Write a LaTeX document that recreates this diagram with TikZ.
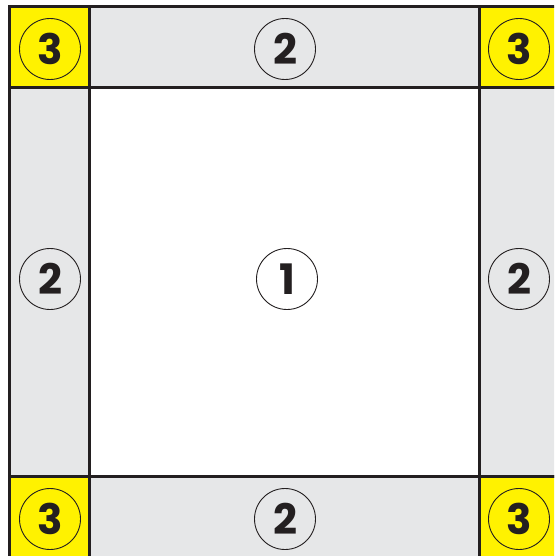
\documentclass[tikz,border=0pt]{standalone}
\usepackage{fontspec}
\setmainfont{Poppins}
\usepackage{tikz}
\usetikzlibrary{positioning}
\definecolor{zoneyellow}{HTML}{FFF200}
\definecolor{zonegray}{HTML}{E6E7E8}
\definecolor{zoneline}{HTML}{231F20}
\tikzstyle{cell} = [draw=zoneline, line width=3pt]
\tikzstyle{badge} = [circle, draw=zoneline, line width=0.9pt, minimum size=61pt,
    inner sep=0pt, text=zoneline, font=\fontsize{42}{42}\selectfont\bfseries]

\begin{document}
\begin{tikzpicture}[x=1pt,y=-1pt]
\useasboundingbox (0,0) rectangle (554,556);
\clip (0,0) rectangle (554,556);
% middle zone and edge zones
\draw[cell, fill=white] (89.5,87.5) rectangle (479,476.5);
\draw[cell, fill=zonegray] (89.5,6.5) rectangle (479,87.5);
\draw[cell, fill=zonegray] (89.5,476.5) rectangle (479,620);
\draw[cell, fill=zonegray] (9.5,87.5) rectangle (89.5,476.5);
\draw[cell, fill=zonegray] (479,87.5) rectangle (620,476.5);
% corner zones
\draw[cell, fill=zoneyellow] (9.5,6.5) rectangle (89.5,87.5);
\draw[cell, fill=zoneyellow] (479,6.5) rectangle (620,87.5);
\draw[cell, fill=zoneyellow] (9.5,476.5) rectangle (89.5,620);
\draw[cell, fill=zoneyellow] (479,476.5) rectangle (620,620);
% labels
\node[badge] (m) at (287,279) {1};
\node[badge] (et) at (285,49) {2};
\node[badge] (eb) at (285,519) {2};
\node[badge] (el) at (50,279) {2};
\node[badge] (er) at (519,279) {2};
\node[badge] (ctl) at (50,49) {3};
\node[badge] (ctr) at (519,49) {3};
\node[badge] (cbl) at (50,519) {3};
\node[badge] (cbr) at (519,519) {3};
\end{tikzpicture}
\end{document}
